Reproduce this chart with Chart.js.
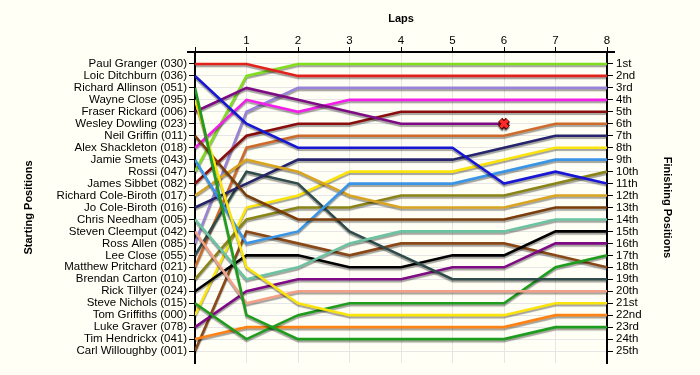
<!DOCTYPE html>
<html><head><meta charset="utf-8">
<script src="https://cdn.jsdelivr.net/npm/chart.js@4.4.1/dist/chart.umd.min.js"></script>
<style>html,body{margin:0;padding:0;background:#FFFFF5;}canvas{display:block;}</style>
</head><body>
<canvas id="c" width="700" height="375"></canvas>
<script>
const laps = [0, 1, 2, 3, 4, 5, 6, 7, 8];
const startingNames = [
  'Paul Granger (030)', 'Loic Ditchburn (036)', 'Richard Allinson (051)', 'Wayne Close (095)',
  'Fraser Rickard (006)', 'Wesley Dowling (023)', 'Neil Griffin (011)', 'Alex Shackleton (018)',
  'Jamie Smets (043)', 'Rossi (047)', 'James Sibbet (082)', 'Richard Cole-Biroth (017)',
  'Jo Cole-Biroth (016)', 'Chris Needham (005)', 'Steven Cleemput (042)', 'Ross Allen (085)',
  'Lee Close (055)', 'Matthew Pritchard (021)', 'Brendan Carton (010)', 'Rick Tillyer (024)',
  'Steve Nichols (015)', 'Tom Griffiths (000)', 'Luke Graver (078)', 'Tim Hendrickx (041)',
  'Carl Willoughby (001)'
];
const finishLabels = ['1st','2nd','3rd','4th','5th','6th','7th','8th','9th','10th','11th','12th',
  '13th','14th','15th','16th','17th','18th','19th','20th','21st','22nd','23rd','24th','25th'];

// position of each driver at the end of each lap (lap 0 = grid)
const posGranger     = [1, 1, 2, 2, 2, 2, 2, 2, 2];
const posDitchburn   = [2, 6, 8, 8, 8, 8, 11, 10, 11];
const posAllinson    = [3, 22, 24, 24, 24, 24, 24, 23, 23];
const posWClose      = [4, 18, 21, 22, 22, 22, 22, 21, 21];
const posRickard     = [5, 3, 4, 5, 6, 6, 6];
const posDowling     = [];
const posGriffin     = [7, 12, 14, 14, 14, 14, 14, 13, 13];
const posShackleton  = [8, 4, 5, 4, 4, 4, 4, 4, 4];
const posSmets       = [9, 16, 15, 11, 11, 11, 10, 9, 9];
const posRossi       = [10, 2, 1, 1, 1, 1, 1, 1, 1];
const posSibbet      = [11, 7, 6, 6, 5, 5, 5, 5, 5];
const posRColeBiroth = [12, 9, 10, 12, 13, 13, 13, 12, 12];
const posJColeBiroth = [13, 11, 9, 9, 9, 9, 8, 7, 7];
const posNeedham     = [14, 19, 18, 16, 15, 15, 15, 14, 14];
const posCleemput    = [15, 21, 20, 20, 20, 20, 20, 20, 20];
const posAllen       = [16, 5, 3, 3, 3, 3, 3, 3, 3];
const posLClose      = [17, 10, 11, 15, 17, 19, 19, 19, 19];
const posPritchard   = [18, 8, 7, 7, 7, 7, 7, 6, 6];
const posCarton      = [19, 14, 13, 13, 12, 12, 12, 11, 10];
const posTillyer     = [20, 17, 17, 18, 18, 17, 17, 15, 15];
const posNichols     = [21, 24, 22, 21, 21, 21, 21, 18, 17];
const posGriffiths   = [22, 13, 12, 10, 10, 10, 9, 8, 8];
const posGraver      = [23, 20, 19, 19, 19, 18, 18, 16, 16];
const posHendrickx   = [24, 23, 23, 23, 23, 23, 23, 22, 22];
const posWilloughby  = [25, 15, 16, 17, 16, 16, 16, 17, 18];

const driverPositions = [posGranger, posDitchburn, posAllinson, posWClose, posRickard, posDowling,
  posGriffin, posShackleton, posSmets, posRossi, posSibbet, posRColeBiroth, posJColeBiroth,
  posNeedham, posCleemput, posAllen, posLClose, posPritchard, posCarton, posTillyer, posNichols,
  posGriffiths, posGraver, posHendrickx, posWilloughby];

const driverColors = ['#E3211C', '#1616D4', '#1E9C1E', '#FBE30C', '#7E0A84', '#888888',
  '#7A3D0A', '#F41EEA', '#3A95E6', '#80DE1E', '#8A0C0C', '#D9A422', '#25246C',
  '#6CC3A2', '#F3A088', '#9983D8', '#2F4B4B', '#CF6B2A', '#8A8416', '#000000', '#1E9C1E',
  '#FBE30C', '#7E0A84', '#FF8214', '#8A4818'];

const FONT = "'Liberation Sans', Arial, sans-serif";

const datasets = [];
const markerPts = [];
driverPositions.forEach((arr, i) => {
  if (!arr.length) return;
  if (arr.length < laps.length) {
    markerPts.push({x: laps[arr.length - 1], y: arr[arr.length - 1]});
  }
  datasets.push({
    label: startingNames[i],
    data: arr.map((p, k) => ({x: laps[k], y: p})),
    borderColor: driverColors[i],
    backgroundColor: driverColors[i],
    borderWidth: 2.6,
    pointRadius: 0,
    pointHoverRadius: 0,
    tension: 0,
    fill: false,
    xAxisID: 'x',
    yAxisID: 'y'
  });
});
datasets.unshift({
  type: 'scatter', label: 'retired-outline', data: markerPts,
  pointStyle: 'crossRot', pointRadius: 5.5, borderColor: '#6A0000', borderWidth: 6,
  backgroundColor: '#6A0000', xAxisID: 'x', yAxisID: 'y'
});
datasets.unshift({
  type: 'scatter', label: 'retired', data: markerPts,
  pointStyle: 'crossRot', pointRadius: 5, borderColor: '#FF2A2A', borderWidth: 3.4,
  backgroundColor: '#FF2A2A', xAxisID: 'x', yAxisID: 'y'
});

const bgPlugin = {
  id: 'bg',
  beforeDraw(chart) {
    const c = chart.ctx;
    c.save();
    c.fillStyle = '#FFFFF5';
    c.fillRect(0, 0, chart.width, chart.height);
    c.restore();
  }
};
const shadowPlugin = {
  id: 'shadow',
  beforeDatasetsDraw(chart) {
    const c = chart.ctx;
    c.save();
    c.shadowColor = 'rgba(0,0,0,0.36)';
    c.shadowOffsetX = 0;
    c.shadowOffsetY = 2;
    c.shadowBlur = 1;
  },
  afterDatasetsDraw(chart) { chart.ctx.restore(); }
};
const axisExtend = {
  id: 'axisExtend',
  afterDraw(chart) {
    const {ctx: c, chartArea: {left, right, top}} = chart;
    c.save();
    c.strokeStyle = '#000';
    c.lineWidth = 2;
    c.beginPath();
    c.moveTo(left - 8, top); c.lineTo(right + 8, top);
    c.stroke();
    c.restore();
  }
};

new Chart(document.getElementById('c'), {
  type: 'line',
  data: {datasets},
  plugins: [bgPlugin, shadowPlugin, axisExtend],
  options: {
    responsive: false,
    animation: false,
    events: [],
    layout: {padding: {left: 0, right: 0, top: 0, bottom: 12}},
    plugins: {legend: {display: false}, tooltip: {enabled: false}},
    scales: {
      x: {
        type: 'linear', position: 'top', min: 0, max: 8,
        afterFit(a) { a.height = 52; },
        afterBuildTicks(a) { a.ticks = laps.map(v => ({value: v})); },
        ticks: {callback: v => (v === 0 ? '' : String(v)), color: '#000', font: {family: FONT, size: 11.5},
          padding: -1, maxRotation: 0, autoSkip: false},
        grid: {color: '#E6E6E6', tickColor: '#000', tickLength: 5, lineWidth: 1},
        border: {color: '#000', width: 2},
        title: {display: true, text: 'Laps', color: '#000', font: {family: FONT, size: 11, weight: 'bold'},
          padding: {top: 12, bottom: 0}}
      },
      y: {
        type: 'linear', position: 'left', min: 0, max: 26, reverse: true,
        afterFit(a) { a.width = 195; },
        afterBuildTicks(a) { a.ticks = startingNames.map((_, i) => ({value: i + 1})); },
        ticks: {callback: v => startingNames[v - 1], color: '#000', font: {family: FONT, size: 11.5},
          padding: 2, autoSkip: false},
        grid: {color: '#E6E6E6', tickColor: '#000', tickLength: 6, lineWidth: 1},
        border: {color: '#000', width: 2},
        title: {display: true, text: 'Starting Positions', color: '#000',
          font: {family: FONT, size: 11, weight: 'bold'}, padding: {top: 22, bottom: 0}}
      },
      y2: {
        type: 'linear', position: 'right', min: 0, max: 26, reverse: true,
        afterFit(a) { a.width = 93; },
        afterBuildTicks(a) { a.ticks = finishLabels.map((_, i) => ({value: i + 1})); },
        ticks: {callback: v => finishLabels[v - 1], color: '#000', font: {family: FONT, size: 11.5},
          padding: 3, autoSkip: false},
        grid: {drawOnChartArea: false, tickColor: '#000', tickLength: 6},
        border: {color: '#000', width: 2},
        title: {display: true, text: 'Finishing Positions', color: '#000',
          font: {family: FONT, size: 11, weight: 'bold'}, padding: {top: 26, bottom: 0}}
      }
    }
  }
});
</script>
</body></html>
